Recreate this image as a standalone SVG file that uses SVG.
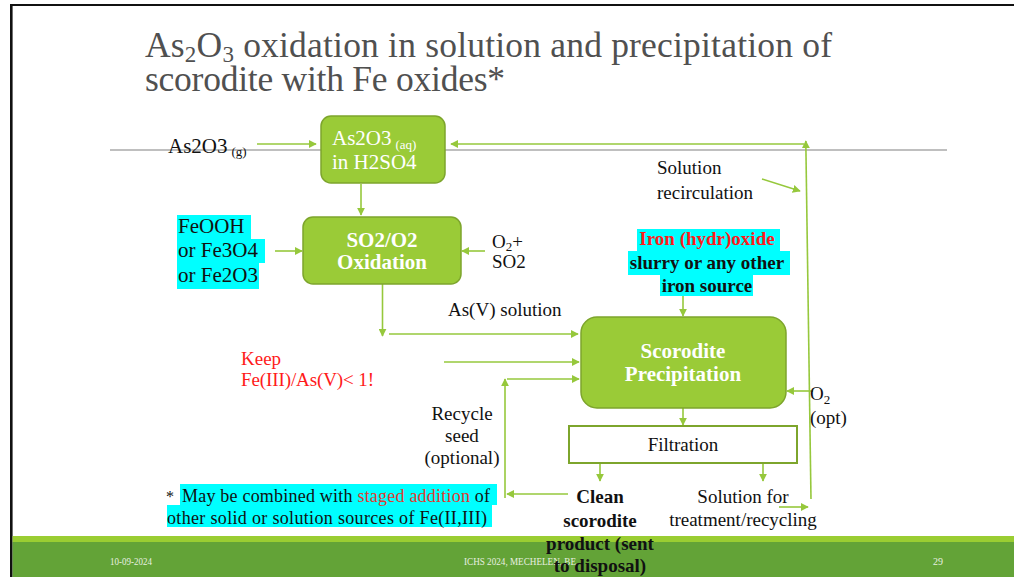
<svg xmlns="http://www.w3.org/2000/svg" width="1014" height="577" viewBox="0 0 1014 577">
  <style>
    .t { font-family: "Liberation Serif", "Times New Roman", serif; fill: #111; }
    .lbl { font-size: 19px; }
    .big { font-size: 21px; }
    .bold { font-weight: bold; }
    .wht { fill: #ffffff; }
    .red { fill: #ff1a1a; }
    .node { fill: #9acb37; stroke: #7da52c; stroke-width: 1.5; }
    .flt { fill: #ffffff; stroke: #7da52c; stroke-width: 2; }
    .hl { fill: #00ffff; }
    .con line { stroke: #96c83c; stroke-width: 1.6; fill: none; marker-end: url(#ah); }
    .foot { font-family: "Liberation Serif", "Times New Roman", serif; font-size: 10px; fill: #e8efe0; }
  </style>
  <defs>
    <marker id="ah" viewBox="0 0 10 10" refX="9" refY="5" markerWidth="5" markerHeight="5" orient="auto" markerUnits="strokeWidth">
      <path d="M0,0 L10,5 L0,10 z" fill="#96c83c"/>
    </marker>
  </defs>

  <!-- page background and frame -->
  <rect x="0" y="0" width="1014" height="577" fill="#ffffff"/>
  <line x1="10" y1="5" x2="1014" y2="5" stroke="#111" stroke-width="2"/>
  <line x1="11.3" y1="4" x2="11.3" y2="577" stroke="#111" stroke-width="2.6"/>

  <!-- title -->
  <g id="title" fill="#505050" font-family="Liberation Serif, 'Times New Roman', serif" font-size="35.5">
    <text x="145" y="57" textLength="687" lengthAdjust="spacing">As<tspan font-size="23" baseline-shift="-5">2</tspan>O<tspan font-size="23" baseline-shift="-5">3</tspan> oxidation in solution and precipitation of</text>
    <text x="145" y="91" textLength="360" lengthAdjust="spacing">scorodite with Fe oxides*</text>
  </g>

  <!-- grey rule under the title -->
  <line x1="110" y1="150" x2="947" y2="150" stroke="#bfbfbf" stroke-width="2"/>

  <!-- footer band -->
  <rect x="12.6" y="536" width="1002" height="6" fill="#9acd32"/>
  <rect x="12.6" y="542" width="1002" height="35" fill="#63a337"/>
  <text class="foot" x="110" y="565" textLength="42" lengthAdjust="spacingAndGlyphs">10-09-2024</text>
  <text class="foot" x="464" y="565" textLength="112" lengthAdjust="spacingAndGlyphs">ICHS 2024, MECHELEN, BE</text>
  <text class="foot" x="933" y="565" textLength="10" lengthAdjust="spacingAndGlyphs">29</text>

  <!-- connectors -->
  <g id="connectors" class="con">
    <line x1="257" y1="144" x2="316" y2="144"/>
    <line x1="361" y1="184" x2="361" y2="215"/>
    <line x1="275" y1="251" x2="302" y2="251"/>
    <line x1="485" y1="251" x2="462" y2="251"/>
    <line x1="382.5" y1="284" x2="382.5" y2="336"/>
    <line x1="389" y1="334" x2="578" y2="334"/>
    <line x1="444" y1="362" x2="579" y2="362"/>
    <line x1="505" y1="498" x2="505" y2="379"/>
    <line x1="507" y1="379" x2="579" y2="379"/>
    <line x1="568" y1="494" x2="507" y2="494"/>
    <line x1="683" y1="292" x2="683" y2="316"/>
    <line x1="683" y1="408" x2="683" y2="425"/>
    <line x1="600" y1="463" x2="600" y2="481"/>
    <line x1="763" y1="463" x2="763" y2="481"/>
    <line x1="779" y1="507" x2="808" y2="507"/>
    <line x1="811" y1="499" x2="805.8" y2="141"/>
    <line x1="804" y1="144" x2="451" y2="144"/>
    <line x1="762" y1="179" x2="800" y2="191"/>
    <line x1="813" y1="391" x2="787" y2="391"/>
  </g>

  <!-- As2O3 dissolution vessel -->
  <g id="node-dissolution">
    <rect class="node" x="321" y="116" width="124" height="67" rx="10"/>
    <text class="t big wht" x="332" y="145">As2O3<tspan font-size="13" dx="4" dy="4">(aq)</tspan></text>
    <text class="t big wht" x="332" y="169">in H2SO4</text>
  </g>

  <!-- oxidation step -->
  <g id="node-oxidation">
    <rect class="node" x="303" y="217" width="158" height="67" rx="10"/>
    <text class="t big wht bold" x="382" y="246.5" text-anchor="middle">SO2/O2</text>
    <text class="t big wht bold" x="382" y="269" text-anchor="middle">Oxidation</text>
  </g>

  <!-- precipitation step -->
  <g id="node-precipitation">
    <rect class="node" x="581" y="317" width="205" height="91" rx="16"/>
    <text class="t big wht bold" x="683" y="357.5" text-anchor="middle">Scorodite</text>
    <text class="t big wht bold" x="683" y="381" text-anchor="middle">Precipitation</text>
  </g>

  <!-- filtration step -->
  <g id="node-filtration">
    <rect class="flt" x="569" y="426" width="228" height="37"/>
    <text class="t lbl" x="683" y="450.5" text-anchor="middle">Filtration</text>
  </g>

  <!-- gaseous feed -->
  <g id="label-feed">
    <text class="t big" x="168" y="153">As2O3<tspan font-size="13" dx="4" dy="3">(g)</tspan></text>
  </g>

  <!-- iron oxide reagents -->
  <g id="label-iron-oxides">
    <rect class="hl" x="177" y="215" width="74" height="24"/>
    <rect class="hl" x="177" y="239" width="88" height="24"/>
    <rect class="hl" x="177" y="263" width="82" height="26"/>
    <text class="t big" x="178" y="233">FeOOH</text>
    <text class="t big" x="178" y="257">or Fe3O4</text>
    <text class="t big" x="178" y="282">or Fe2O3</text>
  </g>

  <!-- oxidant gases -->
  <g id="label-oxidant">
    <text class="t lbl" x="492" y="247.5">O<tspan font-size="13" dy="3">2</tspan><tspan dy="-3">+</tspan></text>
    <text class="t lbl" x="492" y="268">SO2</text>
  </g>

  <g id="label-asv">
    <text class="t lbl" x="448" y="316">As(V) solution</text>
  </g>

  <g id="label-keep">
    <text class="t lbl red" x="241" y="365">Keep</text>
    <text class="t lbl red" x="241" y="386" textLength="133" lengthAdjust="spacing">Fe(III)/As(V)&lt; 1!</text>
  </g>

  <g id="label-recycle-seed">
    <text class="t lbl" x="462" y="419.5" text-anchor="middle">Recycle</text>
    <text class="t lbl" x="462" y="441.5" text-anchor="middle">seed</text>
    <text class="t lbl" x="462" y="463.5" text-anchor="middle">(optional)</text>
  </g>

  <g id="label-recirculation">
    <text class="t lbl" x="657" y="173.5">Solution</text>
    <text class="t lbl" x="657" y="198.5">recirculation</text>
  </g>

  <!-- iron source feed -->
  <g id="label-iron-source">
    <rect class="hl" x="637" y="229" width="143" height="22"/>
    <rect class="hl" x="628" y="251" width="162" height="24"/>
    <rect class="hl" x="660" y="275" width="93" height="21"/>
    <text class="t lbl bold red" x="707" y="245" text-anchor="middle">Iron (hydr)oxide</text>
    <text class="t lbl bold" x="707" y="268.5" text-anchor="middle">slurry or any other</text>
    <text class="t lbl bold" x="707" y="291.5" text-anchor="middle">iron source</text>
  </g>

  <g id="label-o2-opt">
    <text class="t lbl" x="810" y="400">O<tspan font-size="13" dy="4">2</tspan></text>
    <text class="t lbl" x="810" y="423.5">(opt)</text>
  </g>

  <g id="label-product">
    <text class="t lbl bold" x="600" y="503" text-anchor="middle">Clean</text>
    <text class="t lbl bold" x="600" y="526.5" text-anchor="middle">scorodite</text>
    <text class="t lbl bold" x="600" y="550" text-anchor="middle">product (sent</text>
    <text class="t lbl bold" x="600" y="572" text-anchor="middle">to disposal)</text>
  </g>

  <g id="label-solution-out">
    <text class="t lbl" x="743" y="503" text-anchor="middle">Solution for</text>
    <text class="t lbl" x="743" y="526" text-anchor="middle">treatment/recycling</text>
  </g>

  <!-- footnote -->
  <g id="footnote">
    <rect class="hl" x="180" y="484" width="317" height="21"/>
    <rect class="hl" x="167" y="505" width="325" height="22"/>
    <text class="t" font-size="16" x="166" y="502" fill="#555">*</text>
    <text class="t" font-size="18" x="182" y="501.5" textLength="308" lengthAdjust="spacing">May be combined with <tspan fill="#e03a30">staged addition</tspan> of</text>
    <text class="t" font-size="18" x="167" y="523.5" textLength="320" lengthAdjust="spacing">other solid or solution sources of  Fe(II,III)</text>
  </g>
</svg>
